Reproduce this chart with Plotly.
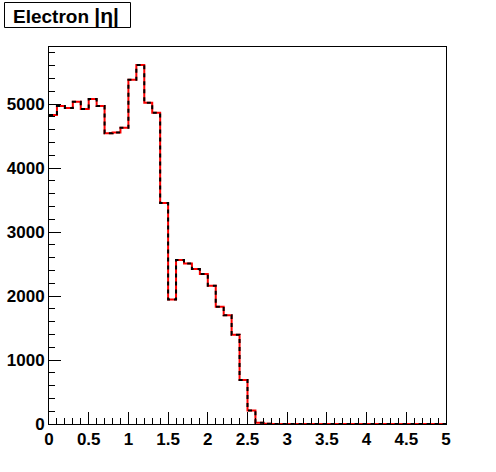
import numpy as np
import plotly.graph_objects as go

# Histogram: Electron |eta|, 50 bins from 0 to 5
bin_lo = 0.0
bin_hi = 5.0
n_bins = 50
counts = [4830, 4970, 4940, 5035, 4925, 5080, 4970, 4545, 4557, 4630,
          5380, 5612, 5022, 4865, 3455, 1945, 2562, 2510, 2422, 2344,
          2161, 1833, 1698, 1396, 688, 210, 20, 5, 0, 0,
          0, 0, 0, 0, 0, 0, 0, 0, 0, 0,
          0, 0, 0, 0, 0, 0, 0, 0, 0, 0]
x_ticks = [0, 0.5, 1, 1.5, 2, 2.5, 3, 3.5, 4, 4.5, 5]
x_tick_text = ["0", "0.5", "1", "1.5", "2", "2.5", "3", "3.5", "4", "4.5", "5"]
y_ticks = [0, 1000, 2000, 3000, 4000, 5000]
y_tick_text = ["0", "1000", "2000", "3000", "4000", "5000"]
title_text = "Electron <span style='font-size:21px'>|η|</span>"

edges = np.linspace(bin_lo, bin_hi, n_bins + 1)
ys = list(counts) + [counts[-1]]
ymax = 1.05 * max(counts)

# pixel-to-paper helpers for the title box (plot area: x 49..446, y 47..424)
L, R, T, B = 49, 446, 47, 424
def px(x):
    return (x - L) / (R - L)
def py(y):
    return (B - y) / (B - T)

fig = go.Figure()
fig.add_trace(go.Scatter(x=edges, y=ys, mode="lines", line_shape="hv",
                         line=dict(color="red", width=2), showlegend=False,
                         hoverinfo="skip"))
fig.add_trace(go.Scatter(x=edges, y=ys, mode="lines", line_shape="hv",
                         line=dict(color="black", width=2, dash="4px,4px"),
                         showlegend=False, hoverinfo="skip"))

tickfont = dict(family="Liberation Sans, Arial, sans-serif", size=17,
                color="black", weight="bold")

fig.update_layout(
    width=496, height=472,
    margin=dict(l=L, r=496 - R, t=T, b=472 - B),
    paper_bgcolor="white", plot_bgcolor="white",
    xaxis=dict(range=[bin_lo, bin_hi], tickvals=x_ticks, ticktext=x_tick_text,
               ticks="inside", ticklen=12, tickwidth=1, tickcolor="black",
               minor=dict(dtick=0.1, ticks="inside", ticklen=6,
                          tickcolor="black", tickwidth=1),
               showline=True, linecolor="black", linewidth=1, mirror=True,
               showgrid=False, zeroline=False, tickfont=tickfont,
               automargin=False, ticklabelstandoff=0),
    yaxis=dict(range=[0, ymax], tickvals=y_ticks, ticktext=y_tick_text,
               ticks="inside", ticklen=12, tickwidth=1, tickcolor="black",
               minor=dict(dtick=200, ticks="inside", ticklen=6,
                          tickcolor="black", tickwidth=1),
               showline=True, linecolor="black", linewidth=1, mirror=True,
               showgrid=False, zeroline=False, tickfont=tickfont,
               automargin=False, ticklabelstandoff=0),
    shapes=[dict(type="rect", xref="paper", yref="paper",
                 x0=px(4.5), x1=px(130.5), y0=py(27.5), y1=py(2.5),
                 line=dict(color="black", width=1), fillcolor="white")],
    annotations=[dict(text=title_text, xref="paper", yref="paper",
                      x=px(11), y=py(16), xanchor="left", yanchor="middle",
                      showarrow=False,
                      font=dict(family="Liberation Sans, Arial, sans-serif",
                                size=19, color="black", weight="bold"))],
)

fig.write_html("out.html",
               config={"displayModeBar": False},
               post_script="document.body.style.margin='0';document.body.style.padding='0';")
